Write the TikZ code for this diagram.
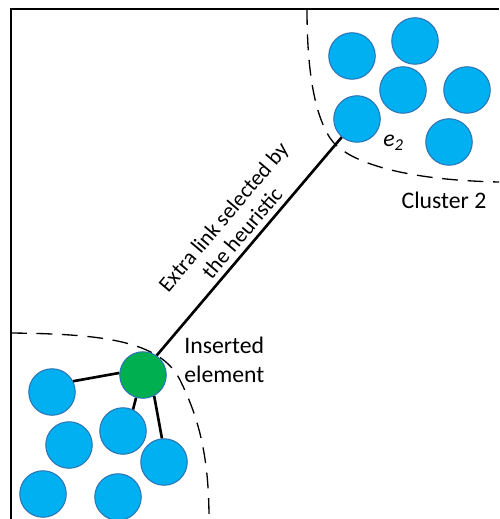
\documentclass[tikz,border=0pt]{standalone}
\usepackage{fontspec}
\setmainfont{Carlito}
\usetikzlibrary{positioning, arrows.meta}
\definecolor{elemblue}{HTML}{00B0F0}
\definecolor{elemedge}{HTML}{2E75B6}
\definecolor{elemgreen}{HTML}{00B050}

\begin{document}
\begin{tikzpicture}[x=0.02cm, y=-0.02cm,
        elem/.style={circle, draw=elemedge, line width=0.6pt, fill=elemblue, minimum size=0.93cm, inner sep=0pt},
        inserted/.style={elem, fill=elemgreen},
        link/.style={line width=1.5pt, black},
        cluster/.style={dashed, dash pattern=on 9pt off 5.5pt, line width=0.75pt},
        lbl/.style={font=\fontsize{13.5}{16.5}\selectfont, inner sep=0pt}
    ]
      \useasboundingbox (0,0) rectangle (499,519);
      \draw[line width=0.8pt] (11,519) -- (11,9) -- (499,9);
      \draw[cluster] (307,9) .. controls (307,60) and (312,110) .. (330,138)
                             .. controls (345,161) and (400,180) .. (499,182);
      \draw[cluster] (11,333) .. controls (100,334) and (160,340) .. (180,380)
                              .. controls (200,420) and (209,460) .. (209,519);
      \node[elem] (c2a) at (352,56) {};
      \node[elem] (c2b) at (415,41) {};
      \node[elem] (c2c) at (403,90) {};
      \node[elem] (c2d) at (467,90) {};
      \node[elem] (e2) at (357,119) {};
      \node[elem] (c2f) at (449,142) {};
      \node[lbl, anchor=base west] (e2label) at (383,147) {\itshape e\textsubscript{2}};
      \node[lbl, anchor=base] (cluster2) at (444,209) {Cluster 2};
      \node[inserted] (ins) at (143,375) {};
      \node[elem] (c1a) at (52,392) {};
      \node[elem] (c1b) at (123,431) {};
      \node[elem] (c1c) at (69,445) {};
      \node[elem] (c1d) at (164,462) {};
      \node[elem] (c1e) at (43,494) {};
      \node[elem] (c1f) at (118,497) {};
      \node[lbl, anchor=north west, align=left] (inslabel) at (184,337) {Inserted\\element};
      \draw[link] (ins.175) -- (c1a.27);
      \draw[link] (ins.-107) -- (c1b.65);
      \draw[link] (ins.-62) -- (c1d.95);
      \draw[link] (ins.55) -- node[sloped, anchor=south, pos=0.52, inner sep=3pt, align=center,
           font=\fontsize{12.5}{14}\selectfont] (extralabel) {Extra link selected by\\the heuristic} (e2.230);
    \end{tikzpicture}
\end{document}
